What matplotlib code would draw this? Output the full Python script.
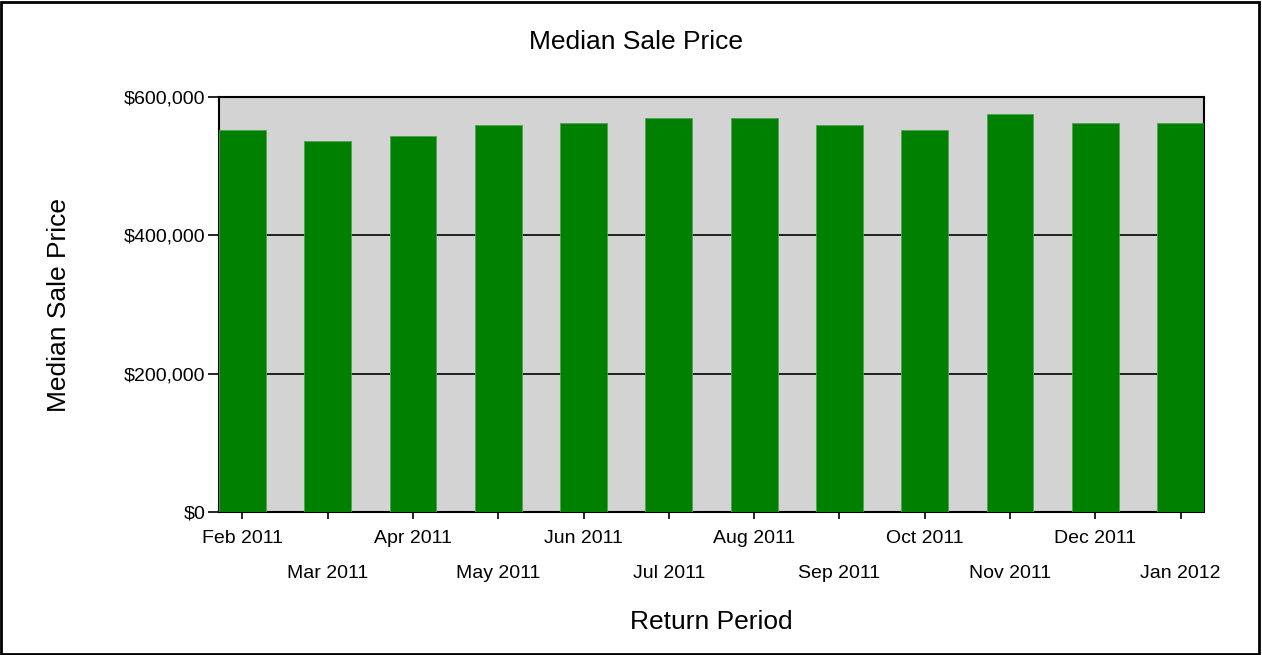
import matplotlib.pyplot as plt
from matplotlib.patches import Rectangle
from matplotlib.ticker import FuncFormatter, FixedLocator

months = ['Feb 2011', 'Mar 2011', 'Apr 2011', 'May 2011', 'Jun 2011', 'Jul 2011',
          'Aug 2011', 'Sep 2011', 'Oct 2011', 'Nov 2011', 'Dec 2011', 'Jan 2012']
median_price = [552000, 537000, 544000, 559000, 562000, 569000,
                569000, 559000, 553000, 575000, 562000, 562000]

plt.rcParams['font.family'] = ['Liberation Sans', 'DejaVu Sans']

fig = plt.figure(figsize=(12.62, 6.55), dpi=100)
ax = fig.add_axes([219 / 1262, 1 - 512 / 655, (1204 - 219) / 1262, (512 - 97) / 655])
ax.set_facecolor('#d3d3d3')

x = list(range(len(months)))
w = 0.55
ax.bar(x, median_price, width=w, color='#008000', edgecolor='#4ca64c', linewidth=0.6, zorder=3)

ax.set_xlim(-w / 2, len(months) - 1 + w / 2)
ax.set_ylim(0, 600000)
ax.set_yticks([0, 200000, 400000, 600000])
ax.yaxis.set_major_formatter(FuncFormatter(lambda v, p: '${:,.0f}'.format(v)))
ax.grid(axis='y', color='black', linewidth=1.2, zorder=1)

# alternate labels on two rows
ax.xaxis.set_major_locator(FixedLocator(x[0::2]))
ax.xaxis.set_minor_locator(FixedLocator(x[1::2]))
ax.set_xticklabels(months[0::2])
ax.set_xticklabels(months[1::2], minor=True)
ax.tick_params(axis='x', which='major', length=5, width=1.2, pad=8, labelsize=14)
ax.tick_params(axis='x', which='minor', length=5, width=1.2, pad=33, labelsize=14)
ax.tick_params(axis='y', length=8, width=1.2, pad=2, labelsize=14)

for s in ax.spines.values():
    s.set_color('black')
    s.set_linewidth(1.5)

ax.set_xlabel('Return Period', fontsize=19, labelpad=20)
ax.set_ylabel('Median Sale Price', fontsize=19, labelpad=38)
fig.text(0.504, 1 - 42 / 655, 'Median Sale Price', ha='center', va='center', fontsize=19)

fig.patches.append(Rectangle((0.001, 0.002), 0.997, 0.995, transform=fig.transFigure,
                             fill=False, edgecolor='black', linewidth=2))

fig.savefig('out.png', dpi=100, facecolor='white')
